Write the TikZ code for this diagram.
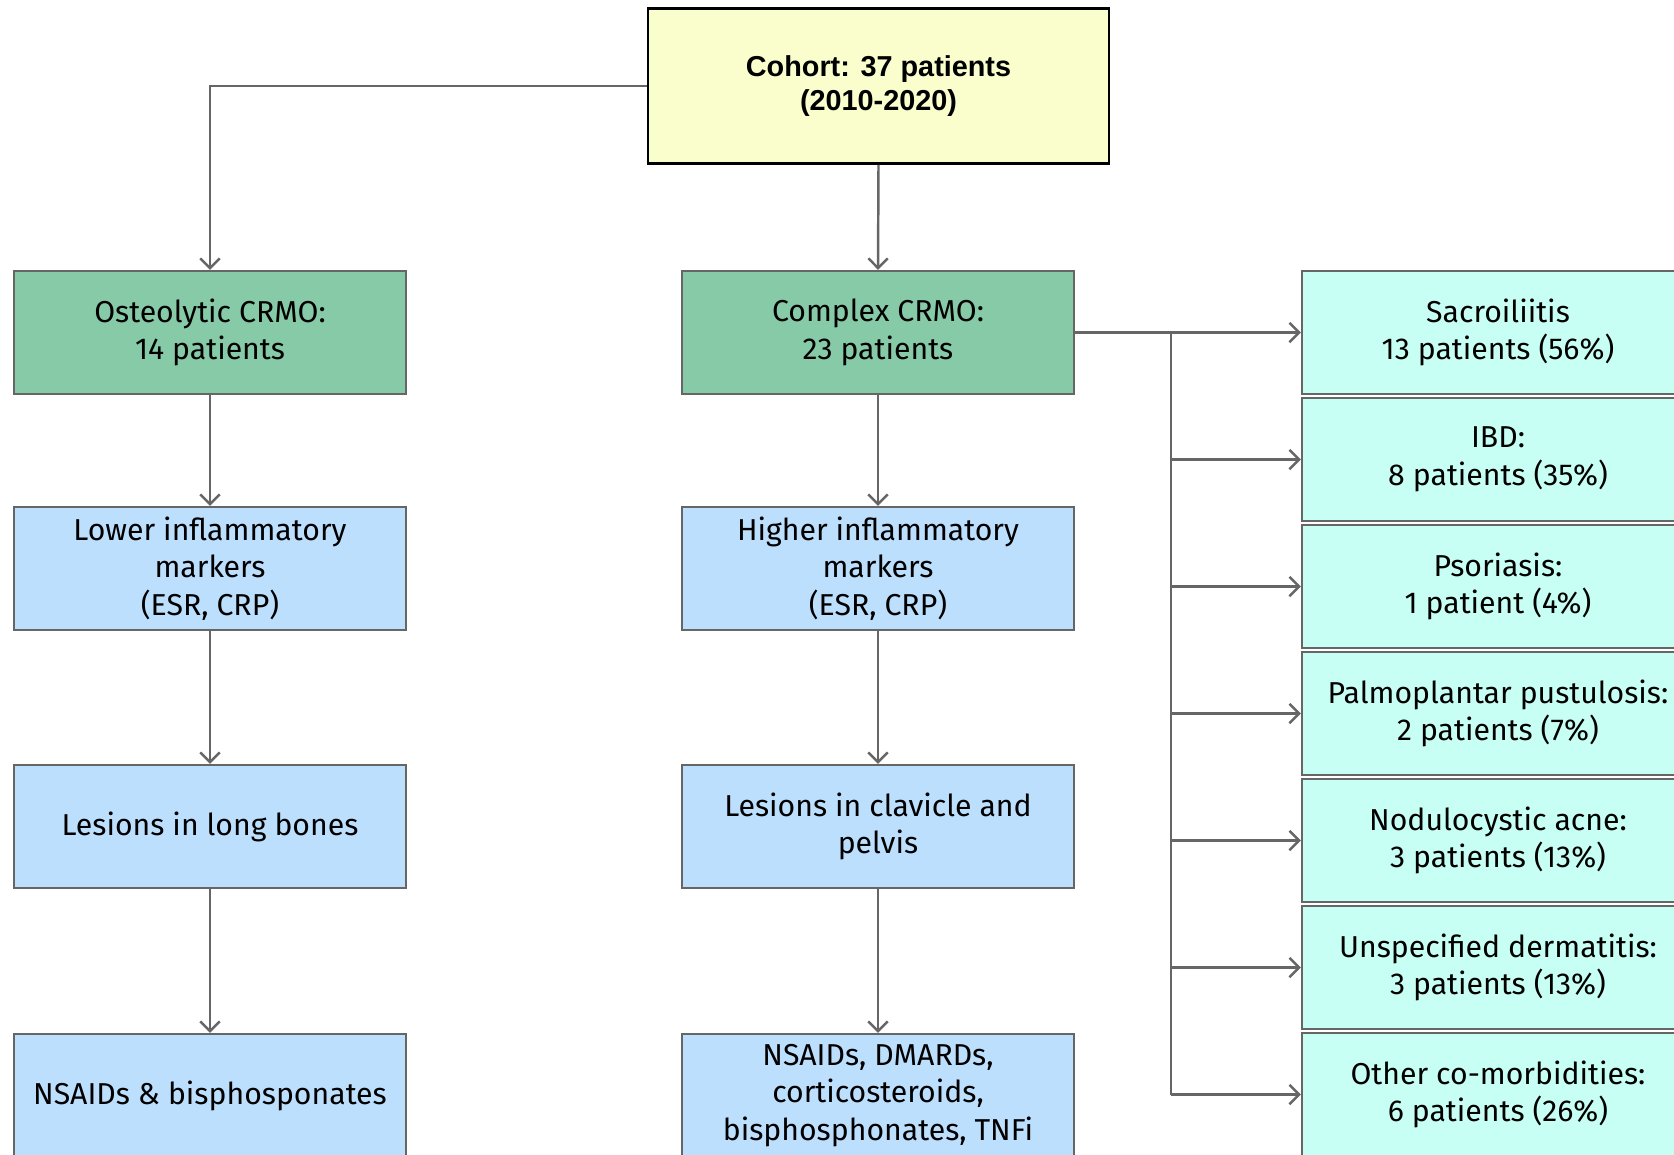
\documentclass[tikz,border=0pt]{standalone}
\usepackage{fontspec}
\setmainfont{Fira Sans}
\newfontfamily\arialfont{Liberation Sans}
\usetikzlibrary{arrows.meta}
\definecolor{cohortfill}{RGB}{250,254,204}
\definecolor{groupfill}{RGB}{134,202,168}
\definecolor{stepfill}{RGB}{189,223,254}
\definecolor{comorbfill}{RGB}{200,255,244}
\definecolor{linegray}{RGB}{102,102,102}
\begin{document}
\begin{tikzpicture}[x=0.02cm, y=-0.02cm,
% common options for the boxes:
box/.style = {rectangle, draw=linegray, line width=1.4pt, align=center,
            minimum width=7.84cm, minimum height=2.46cm, inner sep=2pt,
            font=\fontsize{17.2}{21.5}\selectfont},
group/.style = {box, fill=groupfill},
stepbox/.style = {box, fill=stepfill},
comorb/.style = {box, fill=comorbfill},
% common options for the connectors:
link/.style = {draw=linegray, line width=1.4pt,
            -{Straight Barb[length=5.5pt,width=11pt,line width=1.4pt]}}]
\useasboundingbox (0,0) rectangle (1674,1154);
% top of the tree
\node[rectangle, draw=black, line width=1.6pt, fill=cohortfill, align=center,
      minimum width=9.22cm, minimum height=3.1cm,
      font=\arialfont\bfseries\fontsize{16.4}{19.5}\selectfont]
      (cohort) at (878.5,86) {Cohort: 37 patients\\(2010-2020)};
% left column
\node[group] (osteo) at (210,332.5) {Osteolytic CRMO:\\14 patients};
\node[stepbox] (lowmark) at (210,568.5) {Lower inflammatory\\markers\\(ESR, CRP)};
\node[stepbox] (longbone) at (210,826.5) {Lesions in long bones};
\node[stepbox] (lefttreat) at (210,1095.5) {NSAIDs \& bisphosponates};
% middle column
\node[group] (complex) at (878,332.5) {Complex CRMO:\\23 patients};
\node[stepbox] (highmark) at (878,568.5) {Higher inflammatory\\markers\\(ESR, CRP)};
\node[stepbox] (clavicle) at (878,826.5) {Lesions in clavicle and\\pelvis};
\node[stepbox] (midtreat) at (878,1095.5) {NSAIDs, DMARDs,\\corticosteroids,\\bisphosphonates, TNFi};
% right column
\node[comorb] (sacro) at (1498,332.5) {Sacroiliitis\\13 patients (56\%)};
\node[comorb] (ibd) at (1498,459.5) {IBD:\\8 patients (35\%)};
\node[comorb] (psor) at (1498,586.5) {Psoriasis:\\1 patient (4\%)};
\node[comorb] (palmo) at (1498,713.5) {Palmoplantar pustulosis:\\2 patients (7\%)};
\node[comorb] (acne) at (1498,840.5) {Nodulocystic acne:\\3 patients (13\%)};
\node[comorb] (derm) at (1498,967.5) {Unspecified dermatitis:\\3 patients (13\%)};
\node[comorb] (other) at (1498,1094.5) {Other co-morbidities:\\6 patients (26\%)};
\coordinate (bustop) at (1171,332.5);
\coordinate (busend) at (1171,1094.5);
% connectors
\draw[link] (cohort.west) -| (osteo.north);
\draw[link] (cohort.south) -- (complex.north);
\draw[link] (osteo) -- (lowmark);
\draw[link] (lowmark) -- (longbone);
\draw[link] (longbone) -- (lefttreat);
\draw[link] (complex) -- (highmark);
\draw[link] (highmark) -- (clavicle);
\draw[link] (clavicle) -- (midtreat);
\draw[link] (complex.east) -- (sacro.west);
\draw[draw=linegray, line width=1.4pt] (bustop) -- (busend);
\foreach \target in {ibd,psor,palmo,acne,derm,other}
  \draw[link] (bustop |- \target.west) -- (\target.west);
\end{tikzpicture}
\end{document}
